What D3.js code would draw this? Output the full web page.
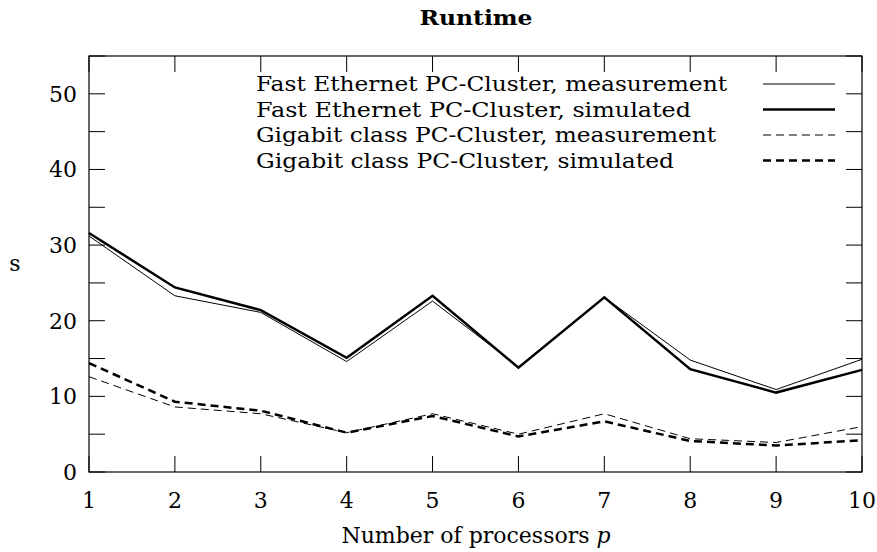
<!DOCTYPE html>
<html>
<head>
<meta charset="UTF-8">
<title>Runtime</title>
<script src="https://d3js.org/d3.v7.min.js"></script>
<style>
  body { margin: 0; background: #fff; }
  text { font-family: "DejaVu Serif", "Liberation Serif", serif; fill: #000; }
</style>
</head>
<body>
<div id="chart"></div>
<script>
// processors p
var procs = [1, 2, 3, 4, 5, 6, 7, 8, 9, 10];
// runtime in s
var feMeasured  = [31.2, 23.3, 21.1, 14.6, 22.6, 13.9, 23.1, 14.8, 10.9, 14.9];
var feSimulated = [31.6, 24.4, 21.4, 15.1, 23.3, 13.8, 23.1, 13.6, 10.5, 13.5];
var gbMeasured  = [12.6, 8.6, 7.7, 5.2, 7.7, 5.0, 7.7, 4.4, 3.9, 6.0];
var gbSimulated = [14.4, 9.3, 8.1, 5.2, 7.4, 4.7, 6.7, 4.1, 3.5, 4.2];
var yTicks = [0, 10, 20, 30, 40, 50];
var yMinor = [0, 5, 10, 15, 20, 25, 30, 35, 40, 45, 50, 55];

var series = [
  {name: "Fast Ethernet PC-Cluster, measurement", values: feMeasured,  width: 1,   dash: null},
  {name: "Fast Ethernet PC-Cluster, simulated",   values: feSimulated, width: 2.5, dash: null},
  {name: "Gigabit class PC-Cluster, measurement", values: gbMeasured,  width: 1,   dash: "8,5"},
  {name: "Gigabit class PC-Cluster, simulated",   values: gbSimulated, width: 2.5, dash: "8,5"}
];

var W = 877, H = 552;
var margin = {top: 56, right: 15, bottom: 80, left: 89};
var width = W - margin.left - margin.right,
    height = H - margin.top - margin.bottom;

var svg = d3.select("#chart").append("svg")
  .attr("width", W).attr("height", H);

var g = svg.append("g")
  .attr("transform", "translate(" + margin.left + "," + margin.top + ")");

var x = d3.scaleLinear().domain([1, 10]).range([0, width]);
var y = d3.scaleLinear().domain([0, 55]).range([height, 0]);

// ticks, inward on all four sides
var tickLen = 16;
g.selectAll(".xt").data(procs).enter().append("line")
  .attr("x1", function(d) { return x(d); }).attr("x2", function(d) { return x(d); })
  .attr("y1", height).attr("y2", height - tickLen)
  .attr("stroke", "#000").attr("stroke-width", 1);
g.selectAll(".xt2").data(procs).enter().append("line")
  .attr("x1", function(d) { return x(d); }).attr("x2", function(d) { return x(d); })
  .attr("y1", 0).attr("y2", tickLen)
  .attr("stroke", "#000").attr("stroke-width", 1);
g.selectAll(".yt").data(yMinor).enter().append("line")
  .attr("x1", 0).attr("x2", tickLen)
  .attr("y1", function(d) { return y(d); }).attr("y2", function(d) { return y(d); })
  .attr("stroke", "#000").attr("stroke-width", 1);
g.selectAll(".yt2").data(yMinor).enter().append("line")
  .attr("x1", width).attr("x2", width - tickLen)
  .attr("y1", function(d) { return y(d); }).attr("y2", function(d) { return y(d); })
  .attr("stroke", "#000").attr("stroke-width", 1);

// frame
g.append("rect").attr("width", width).attr("height", height)
  .attr("fill", "none").attr("stroke", "#000").attr("stroke-width", 1.2);

// tick labels
g.selectAll(".xl").data(procs).enter().append("text")
  .attr("x", function(d) { return x(d); }).attr("y", height + 36)
  .attr("text-anchor", "middle").style("font-size", "22px")
  .text(function(d) { return d; });
g.selectAll(".yl").data(yTicks).enter().append("text")
  .attr("x", -12).attr("y", function(d) { return y(d) + 8; })
  .attr("text-anchor", "end").style("font-size", "22px")
  .text(function(d) { return d; });

// lines
var line = d3.line()
  .x(function(d, i) { return x(procs[i]); })
  .y(function(d) { return y(d); });

g.selectAll(".series").data(series).enter().append("path")
  .attr("d", function(s) { return line(s.values); })
  .attr("fill", "none").attr("stroke", "#000")
  .attr("stroke-width", function(s) { return s.width; })
  .attr("stroke-dasharray", function(s) { return s.dash; })
  .attr("stroke-linejoin", "miter");

// legend
var leg = g.selectAll(".leg").data(series).enter().append("g")
  .attr("transform", function(s, i) { return "translate(0," + (28 + i * 25.5) + ")"; });
leg.append("text").attr("x", 167).attr("y", 7)
  .style("font-size", "21px")
  .attr("textLength", function(s, i) { return [471, 435, 460, 418][i]; })
  .attr("lengthAdjust", "spacingAndGlyphs")
  .text(function(s) { return s.name; });
leg.append("line").attr("x1", 674).attr("x2", 746).attr("y1", 0).attr("y2", 0)
  .attr("stroke", "#000")
  .attr("stroke-width", function(s) { return s.width; })
  .attr("stroke-dasharray", function(s) { return s.dash; });

// title and axis labels
svg.append("text").attr("x", 476).attr("y", 25).attr("text-anchor", "middle")
  .style("font-size", "21px").style("font-weight", "bold")
  .attr("textLength", 113).attr("lengthAdjust", "spacingAndGlyphs")
  .text("Runtime");
svg.append("text").attr("x", 15).attr("y", 271).attr("text-anchor", "middle")
  .style("font-size", "22px").text("s");
var xl = svg.append("text").attr("x", 476).attr("y", 543).attr("text-anchor", "middle")
  .style("font-size", "22px");
xl.append("tspan").text("Number of processors ");
xl.append("tspan").style("font-style", "italic").text("p");
</script>
</body>
</html>
